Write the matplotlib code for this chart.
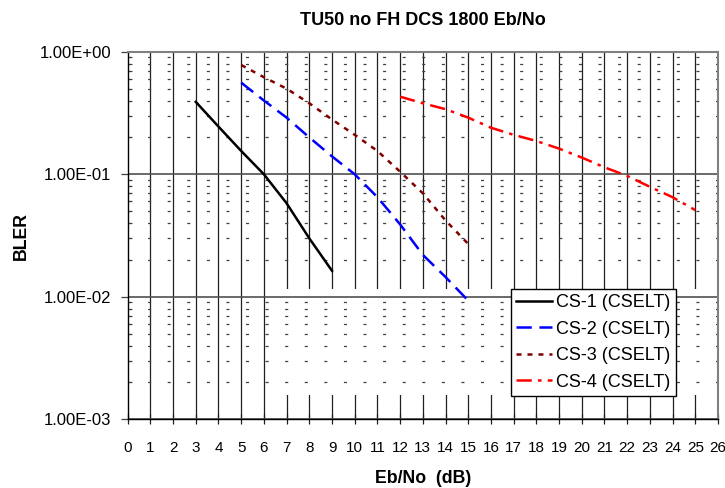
import matplotlib
matplotlib.use("Agg")
import matplotlib.pyplot as plt
from matplotlib.ticker import FixedLocator, FuncFormatter, LogLocator, NullFormatter
from matplotlib.patches import Rectangle

plt.rcParams['font.family'] = ['Liberation Sans', 'DejaVu Sans']
plt.rcParams['lines.scale_dashes'] = False

title = "TU50 no FH DCS 1800 Eb/No"
xlabel = "Eb/No  (dB)"
ylabel = "BLER"

x_cs1 = [3, 4, 5, 6, 7, 8, 9]
y_cs1 = [0.39, 0.245, 0.155, 0.1, 0.058, 0.030, 0.0163]

x_cs2 = [5, 6, 7, 8, 9, 10, 11, 12, 13, 14, 15]
y_cs2 = [0.56, 0.40, 0.29, 0.20, 0.14, 0.10, 0.065, 0.039, 0.022, 0.0145, 0.0093]

x_cs3 = [5, 6, 7, 8, 9, 10, 11, 12, 13, 14, 15]
y_cs3 = [0.78, 0.62, 0.50, 0.38, 0.28, 0.21, 0.155, 0.105, 0.07, 0.042, 0.027]

x_cs4 = [12, 13, 14, 15, 16, 17, 18, 19, 20, 21, 22, 23, 24, 25]
y_cs4 = [0.43, 0.38, 0.34, 0.29, 0.24, 0.21, 0.187, 0.162, 0.137, 0.114, 0.097, 0.079, 0.065, 0.051]

labels = ["CS-1 (CSELT)", "CS-2 (CSELT)", "CS-3 (CSELT)", "CS-4 (CSELT)"]
x_ticks = list(range(0, 27))
y_ticks = [1e-3, 1e-2, 1e-1, 1e0]

fig = plt.figure(figsize=(7.25, 4.88), dpi=100)
ax = fig.add_axes([0.1761, 0.1408, 0.9903 - 0.1761, 0.8939 - 0.1408])
ax.set_yscale('log')
ax.set_xlim(0, 26)
ax.set_ylim(1e-3, 1)
ax.set_axisbelow(True)

# vertical grid lines
ax.vlines(x_ticks[1:-1], 1e-3, 1, colors='#202020', linewidth=0.9, zorder=0.2)
# artifact: white band hiding vertical lines near legend height
ax.add_patch(Rectangle((6.3, 0.00158), 25.95 - 6.3, 0.0116 - 0.00158, facecolor='white',
                       edgecolor='none', zorder=0.3))

ax.yaxis.set_major_locator(FixedLocator(y_ticks))
ax.yaxis.set_minor_locator(LogLocator(base=10, subs=range(2, 10)))
ax.yaxis.set_major_formatter(FuncFormatter(lambda v, p: f"{v:.2E}"))
ax.yaxis.set_minor_formatter(NullFormatter())
ax.yaxis.grid(True, which='major', color='#505050', linewidth=1.2)
ax.yaxis.grid(True, which='minor', color='#404040', linewidth=0.9,
              linestyle=(0, (2.2, 11.9)))

ax.xaxis.set_major_locator(FixedLocator(x_ticks))
ax.tick_params(axis='x', which='major', direction='inout', length=7, width=0.9,
               labelsize=11, pad=12, color='#202020')
ax.tick_params(axis='y', which='major', direction='out', length=5, width=0.9,
               labelsize=12, pad=7, color='#404040')
ax.tick_params(axis='y', which='minor', direction='in', length=3, width=0.8, color='#404040')

for s in ['left', 'bottom']:
    ax.spines[s].set_color('black')
    ax.spines[s].set_linewidth(1.0)
for s in ['top', 'right']:
    ax.spines[s].set_color('#808080')
    ax.spines[s].set_linewidth(1.5)

lw = 1.8
ax.plot(x_cs1, y_cs1, color='black', linewidth=lw, linestyle='-', label=labels[0], zorder=3)
ax.plot(x_cs2, y_cs2, color='#0000FF', linewidth=lw, linestyle=(0, (11, 5.5)), label=labels[1], zorder=3)
ax.plot(x_cs3, y_cs3, color='#800000', linewidth=lw, linestyle=(0, (3.6, 4.3)), label=labels[2], zorder=3)
ax.plot(x_cs4, y_cs4, color='#FF0000', linewidth=lw, linestyle=(0, (11, 4.5, 2.5, 4.5)), label=labels[3], zorder=3)

leg = ax.legend(loc='upper left', bbox_to_anchor=(0.649, 0.3546), borderaxespad=0,
                fontsize=13, frameon=True, fancybox=False, framealpha=1,
                edgecolor='black', handlelength=2.0, handletextpad=0.2,
                labelspacing=0.52, borderpad=0.3)
leg.get_frame().set_linewidth(1.0)
leg.set_zorder(5)

ax.set_title(title, fontsize=13, fontweight='bold', pad=19)
ax.set_xlabel(xlabel, fontsize=12.8, fontweight='bold', labelpad=11)
ax.set_ylabel(ylabel, fontsize=12.8, fontweight='bold', labelpad=7)

fig.savefig("out.png", dpi=100)
